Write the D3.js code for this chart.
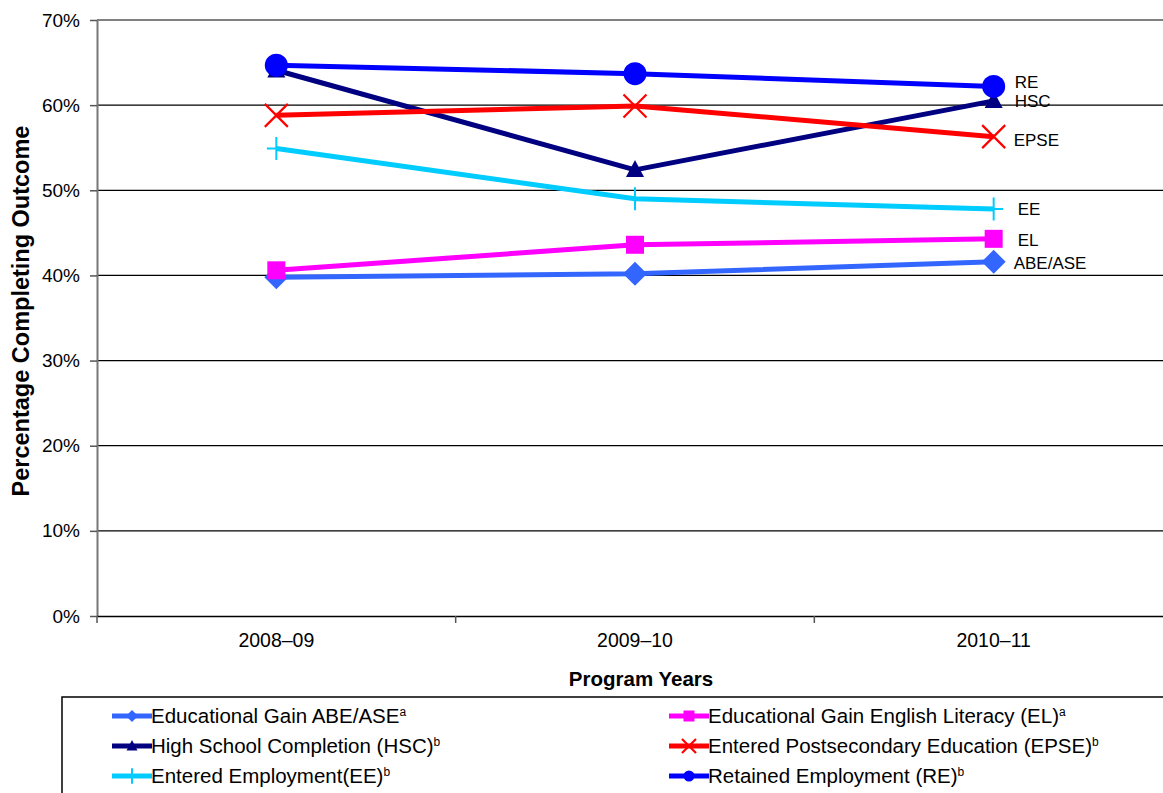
<!DOCTYPE html>
<html><head><meta charset="utf-8">
<script src="https://cdn.jsdelivr.net/npm/d3@7"></script>
<style>body{margin:0;background:#fff;}svg{display:block;font-family:"Liberation Sans",Arial,sans-serif;}</style>
</head><body><svg id="c" width="1163" height="793"></svg>
<script>
const categories = ["2008–09", "2009–10", "2010–11"];
const yTicks = [0, 0.1, 0.2, 0.3, 0.4, 0.5, 0.6, 0.7];
const seriesNames = ["Educational Gain ABE/ASE", "Educational Gain English Literacy (EL)", "High School Completion (HSC)", "Entered Postsecondary Education (EPSE)", "Entered Employment(EE)", "Retained Employment (RE)"];
const seriesSup = ["a", "a", "b", "b", "b", "b"];
const seriesShort = ["ABE/ASE", "EL", "HSC", "EPSE", "EE", "RE"];
const valsABE = [0.398, 0.402, 0.416];
const valsEL = [0.406, 0.436, 0.443];
const valsHSC = [0.641, 0.524, 0.605];
const valsEPSE = [0.588, 0.599, 0.563];
const valsEE = [0.549, 0.490, 0.478];
const valsRE = [0.647, 0.637, 0.622];
const colors = ["#3366FF", "#FF00FF", "#000080", "#FF0000", "#00CCFF", "#0000FF"];
const markers = ["diamond", "square", "triangle", "x", "plus", "circle"];
const values = [valsABE, valsEL, valsHSC, valsEPSE, valsEE, valsRE];

const svg = d3.select("#c");
const x = d3.scaleBand().domain(categories).range([97, 1173]);
const y = d3.scaleLinear().domain([0, 0.7]).range([616, 20]);

// gridlines
svg.append("g").selectAll("line").data(yTicks.filter(d => d > 0)).join("line")
  .attr("x1", 97).attr("x2", 1163).attr("y1", d => y(d)).attr("y2", d => y(d))
  .attr("stroke", d => d === 0.7 ? "#808080" : "#000").attr("stroke-width", d => d === 0.7 ? 2 : 1.3);

// y axis
const yAxis = svg.append("g").attr("transform", "translate(97,0)")
  .call(d3.axisLeft(y).tickValues(yTicks).tickFormat(d3.format(".0%")).tickSize(7).tickSizeOuter(0));
yAxis.select(".domain").attr("stroke", "#777").attr("stroke-width", 2);
yAxis.selectAll(".tick line").attr("stroke", "#555").attr("stroke-width", 1.5);
yAxis.selectAll("text").attr("font-size", 19).attr("font-family", "Liberation Sans, Arial, sans-serif").attr("fill", "#000").attr("x", -17);

// x axis
const xAxis = svg.append("g").attr("transform", "translate(0,616)")
  .call(d3.axisBottom(x).tickSize(0).tickSizeOuter(0));
xAxis.select(".domain").attr("stroke", "#000").attr("stroke-width", 1.5);
xAxis.selectAll("text").attr("font-size", 19.5).attr("font-family", "Liberation Sans, Arial, sans-serif").attr("fill", "#000").attr("dy", 0).attr("y", 31);
// tick marks between categories
const bounds = categories.map(c => x(c));
svg.append("g").selectAll("line").data(bounds).join("line")
  .attr("x1", d => d).attr("x2", d => d).attr("y1", 616).attr("y2", 623)
  .attr("stroke", "#555").attr("stroke-width", 1.5);

// titles
svg.append("text").attr("transform", "translate(29,311) rotate(-90)").attr("text-anchor", "middle")
  .attr("font-size", 23.5).attr("font-weight", "bold").text("Percentage Completing Outcome");
svg.append("text").attr("x", 641).attr("y", 686).attr("text-anchor", "middle")
  .attr("font-size", 20.5).attr("font-weight", "bold").text("Program Years");

function drawMarker(g, type, color, s) {
  if (type === "circle") g.append("circle").attr("r", s * 0.5).attr("fill", color);
  else if (type === "square") g.append("rect").attr("x", -s * 0.5).attr("y", -s * 0.5).attr("width", s).attr("height", s).attr("fill", color);
  else if (type === "diamond") g.append("path").attr("d", `M0,${-s * 0.5}L${s * 0.5},0L0,${s * 0.5}L${-s * 0.5},0Z`).attr("fill", color);
  else if (type === "triangle") g.append("path").attr("d", `M0,${-s * 0.55}L${s * 0.5},${s * 0.4}L${-s * 0.5},${s * 0.4}Z`).attr("fill", color);
  else if (type === "x") g.append("path").attr("d", `M${-s * 0.5},${-s * 0.5}L${s * 0.5},${s * 0.5}M${s * 0.5},${-s * 0.5}L${-s * 0.5},${s * 0.5}`).attr("stroke", color).attr("stroke-width", 2.2).attr("fill", "none");
  else if (type === "plus") g.append("path").attr("d", `M${-s * 0.45},0L${s * 0.45},0M0,${-s * 0.55}L0,${s * 0.55}`).attr("stroke", color).attr("stroke-width", 2).attr("fill", "none");
}
const markerSize = {circle: 23, square: 18, diamond: 24, triangle: 18, x: 23, plus: 21};
const legendMarkerSize = {circle: 11, square: 11, diamond: 12, triangle: 11, x: 14, plus: 14};

const cx = c => x(c) + x.bandwidth() / 2;
const line = d3.line().x((d, i) => cx(categories[i])).y(d => y(d));
values.forEach((vals, si) => {
  const g = svg.append("g");
  g.append("path").attr("d", line(vals)).attr("fill", "none").attr("stroke", colors[si]).attr("stroke-width", 5).attr("stroke-linejoin", "round");
  vals.forEach((v, i) => {
    const mg = g.append("g").attr("transform", `translate(${cx(categories[i])},${y(v)})`);
    drawMarker(mg, markers[si], colors[si], markerSize[markers[si]]);
  });
});

// end labels
const labelDy = [7, 7, 6, 9, 6, 2];
const labelDx = [20, 24, 21, 20, 24, 21];
const lastX = cx(categories[2]);
values.forEach((vals, si) => {
  svg.append("text").attr("x", lastX + labelDx[si]).attr("y", y(vals[2]) + labelDy[si])
    .attr("font-size", 17).attr("fill", "#000").text(seriesShort[si]);
});

// legend
svg.append("rect").attr("x", 62).attr("y", 697).attr("width", 1120).attr("height", 120)
  .attr("fill", "none").attr("stroke", "#000").attr("stroke-width", 1.5);
const legX = [112, 669];
const legY = [716, 746, 776];
seriesNames.forEach((name, si) => {
  const col = si % 2, row = Math.floor(si / 2);
  const lx = legX[col], ly = legY[row];
  const g = svg.append("g");
  g.append("line").attr("x1", lx).attr("x2", lx + 40).attr("y1", ly).attr("y2", ly).attr("stroke", colors[si]).attr("stroke-width", 5);
  const mg = g.append("g").attr("transform", `translate(${lx + 20},${ly})`);
  drawMarker(mg, markers[si], colors[si], legendMarkerSize[markers[si]]);
  const t = g.append("text").attr("x", lx + 39).attr("y", ly + 7).attr("font-size", 20.5).attr("fill", "#000");
  t.append("tspan").text(name);
  t.append("tspan").attr("font-size", 12).attr("dy", -7).text(seriesSup[si]);
});
</script></body></html>
